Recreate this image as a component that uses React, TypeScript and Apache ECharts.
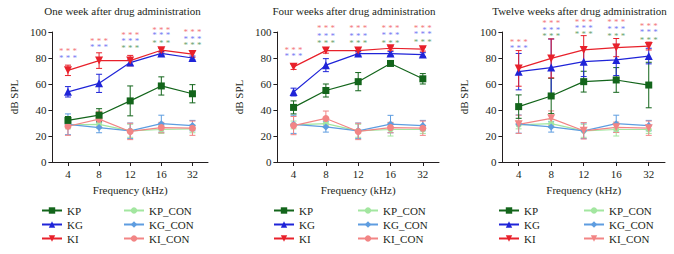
import React, { useEffect, useRef } from "react";
import * as echarts from "echarts";

const categories = ["4", "8", "12", "16", "32"];
const legendLeft = ["KP", "KG", "KI"];
const legendRight = ["KP_CON", "KG_CON", "KI_CON"];
const titles = [
  "One week after drug administration",
  "Four weeks after drug administration",
  "Twelve weeks after drug administration",
];

// Panel 1: one week
const p1KP = [32, 36, 47, 58.5, 52.5];
const p1KPErr = [3, 5, 11.5, 7, 7];
const p1KG = [54, 60.5, 76.5, 83.5, 80];
const p1KGErr = [4, 7, 2, 1.5, 1.5];
const p1KI = [70.5, 78, 78, 86, 83];
const p1KIErr = [4, 6, 4, 1.5, 2.5];
const p1KPC = [28.5, 29, 24, 25, 25.5];
const p1KPCErr = [3, 3, 5, 3, 3];
const p1KGC = [29, 26.5, 24, 29.5, 28];
const p1KGCErr = [8, 4, 6, 6.5, 4];
const p1KIC = [27.5, 33, 23.5, 26.5, 26];
const p1KICErr = [7, 6, 6.3, 4, 5.5];
const p1SigRed = [86.2, 94.6, 99.2, 103, 100.8];
const p1SigBlue = [81.5, 90, 94.6, 98.5, 96];
const p1SigGreen = [null, null, 89.2, 93, 90.8];

// Panel 2: four weeks
const p2KP = [42, 55, 61.8, 75.8, 64];
const p2KPErr = [5, 5, 7, 1, 4];
const p2KG = [53.8, 74.5, 83.4, 83.4, 82.6];
const p2KGErr = [3, 5, 1.5, 1.5, 1.5];
const p2KI = [73.2, 85.7, 85.7, 87.5, 86.8];
const p2KIErr = [2, 2, 2, 1.5, 1.5];
const p2KPC = [28.5, 29.5, 24, 25, 25];
const p2KPCErr = [3, 3, 5, 5, 3];
const p2KGC = [29, 27, 24, 29.2, 28];
const p2KGCErr = [7, 4, 6, 6.7, 4];
const p2KIC = [28, 33.5, 23.5, 26.5, 26];
const p2KICErr = [7, 5.7, 6.3, 4, 5.5];
const p2SigRed = [87.4, 104, 104, 104, 104];
const p2SigBlue = [83, 98.2, 98.2, 99, 99.5];
const p2SigGreen = [null, 92.6, 92.6, 93, 93.8];

// Panel 3: twelve weeks
const p3KP = [42.6, 50.8, 61.8, 63.1, 59.2];
const p3KPErr = [9, 13.6, 8, 9.5, 17.5];
const p3KG = [69.5, 72.6, 77.2, 78.5, 81.5];
const p3KGErr = [14, 22, 11.5, 12, 6];
const p3KI = [72, 79.7, 86.2, 88, 89.2];
const p3KIErr = [13.7, 15, 11, 7, 3];
const p3KPC = [28.5, 29.5, 24, 25, 25];
const p3KPCErr = [3, 3, 5, 5, 3];
const p3KGC = [29.2, 27, 24, 29.5, 28];
const p3KGCErr = [7, 4, 6, 6.5, 4];
const p3KIC = [29, 33.6, 24, 26.7, 26];
const p3KICErr = [7, 5.7, 6.3, 4, 5.5];
const p3SigRed = [93.8, 108, 109.2, 108.5, 105.9];
const p3SigBlue = [88.7, 102.8, 104.6, 103.3, 100.8];
const p3SigGreen = [null, 97.7, 99.7, 97.7, 95.1];

const FONT = "Liberation Serif";
const TXT = "#231f20";

const C = {
  KP: "#13651b",
  KG: "#1f24d8",
  KI: "#e8212b",
  KP_CON: "#a3e6a0",
  KG_CON: "#5e9de0",
  KI_CON: "#f28585",
  sigR: "#ef4f55",
  sigB: "#4f55ef",
  sigG: "#3d8a45",
};

type PanelCfg = {
  title: string;
  kp: number[]; kpErr: number[];
  kg: number[]; kgErr: number[];
  ki: number[]; kiErr: number[];
  kpc: number[]; kpcErr: number[];
  kgc: number[]; kgcErr: number[];
  kic: number[]; kicErr: number[];
  sigR: (number | null)[]; sigB: (number | null)[]; sigG: (number | null)[];
  kicTriangle: boolean;
  left: number; width: number; gridLeft: number; gridRight: number; legend2: number;
};

const panels: PanelCfg[] = [
  {
    title: titles[0], kp: p1KP, kpErr: p1KPErr, kg: p1KG, kgErr: p1KGErr, ki: p1KI, kiErr: p1KIErr,
    kpc: p1KPC, kpcErr: p1KPCErr, kgc: p1KGC, kgcErr: p1KGCErr, kic: p1KIC, kicErr: p1KICErr,
    sigR: p1SigRed, sigB: p1SigBlue, sigG: p1SigGreen, kicTriangle: false,
    left: 0, width: 225, gridLeft: 41, gridRight: 17, legend2: 123,
  },
  {
    title: titles[1], kp: p2KP, kpErr: p2KPErr, kg: p2KG, kgErr: p2KGErr, ki: p2KI, kiErr: p2KIErr,
    kpc: p2KPC, kpcErr: p2KPCErr, kgc: p2KGC, kgcErr: p2KGCErr, kic: p2KIC, kicErr: p2KICErr,
    sigR: p2SigRed, sigB: p2SigBlue, sigG: p2SigGreen, kicTriangle: false,
    left: 225, width: 225, gridLeft: 48, gridRight: 11, legend2: 132,
  },
  {
    title: titles[2], kp: p3KP, kpErr: p3KPErr, kg: p3KG, kgErr: p3KGErr, ki: p3KI, kiErr: p3KIErr,
    kpc: p3KPC, kpcErr: p3KPCErr, kgc: p3KGC, kgcErr: p3KGCErr, kic: p3KIC, kicErr: p3KICErr,
    sigR: p3SigRed, sigB: p3SigBlue, sigG: p3SigGreen, kicTriangle: true,
    left: 450, width: 224, gridLeft: 48, gridRight: 9, legend2: 133,
  },
];

function errSeries(name: string, vals: number[], errs: number[], color: string) {
  return {
    type: "custom",
    name,
    silent: true,
    encode: { x: 0, y: [1, 2] },
    data: vals.map((v, i) => [i, v - errs[i], v + errs[i]]),
    renderItem: (params: any, api: any) => {
      const x = api.value(0);
      const hi = api.coord([x, api.value(2)]);
      const lo = api.coord([x, api.value(1)]);
      const w = 3;
      const st = { stroke: color, lineWidth: 1 };
      return {
        type: "group",
        children: [
          { type: "line", shape: { x1: hi[0], y1: hi[1], x2: lo[0], y2: lo[1] }, style: st },
          { type: "line", shape: { x1: hi[0] - w, y1: hi[1], x2: hi[0] + w, y2: hi[1] }, style: st },
          { type: "line", shape: { x1: lo[0] - w, y1: lo[1], x2: lo[0] + w, y2: lo[1] }, style: st },
        ],
      };
    },
  };
}

function lineSeries(name: string, vals: number[], color: string, symbol: string, size: number, rotate = 0) {
  return {
    type: "line",
    name,
    data: vals,
    symbol,
    symbolSize: size,
    symbolRotate: rotate,
    showSymbol: true,
    lineStyle: { color, width: 1.2 },
    itemStyle: { color },
    z: 3,
  };
}

function sigSeries(name: string, vals: (number | null)[], color: string) {
  return {
    type: "scatter",
    name,
    clip: false,
    silent: true,
    symbolSize: 1,
    itemStyle: { color: "rgba(0,0,0,0)" },
    data: vals.map((v, i) => (v == null ? null : [i, v])).filter((d) => d != null),
    label: {
      show: true,
      position: "inside",
      formatter: "* * *",
      color,
      fontSize: 9,
      lineHeight: 5,
      fontFamily: FONT,
      offset: [0, 1.5],
    },
    z: 5,
  };
}

function buildOption(p: PanelCfg) {
  const gridW = p.width - p.gridLeft - p.gridRight;
  const legendCommon = {
    orient: "vertical",
    top: 205,
    padding: 0,
    itemWidth: 20,
    itemHeight: 8,
    itemGap: 3,
    selectedMode: false,
    textStyle: { fontSize: 11, color: TXT, fontFamily: FONT },
  };
  return {
    animation: false,
    backgroundColor: "#ffffff",
    textStyle: { fontFamily: FONT },
    title: {
      text: p.title,
      left: p.gridLeft + gridW / 2 - 2,
      top: 5,
      textAlign: "center",
      padding: 0,
      textStyle: { fontSize: 11, fontWeight: "normal", color: TXT, fontFamily: FONT },
    },
    legend: [
      { ...legendCommon, left: p.gridLeft, data: legendLeft },
      { ...legendCommon, left: p.legend2, data: legendRight },
    ],
    grid: { left: p.gridLeft, right: p.gridRight, top: 32, bottom: 92, containLabel: false },
    xAxis: {
      type: "category",
      data: categories,
      boundaryGap: true,
      axisLine: { lineStyle: { color: TXT, width: 1 } },
      axisTick: { show: true, alignWithLabel: true, length: 4, lineStyle: { color: TXT } },
      axisLabel: { fontSize: 11, color: TXT, fontFamily: FONT, margin: 6 },
      name: "Frequency (kHz)",
      nameLocation: "middle",
      nameGap: 22,
      nameTextStyle: { fontSize: 11, color: TXT, fontFamily: FONT },
      splitLine: { show: false },
    },
    yAxis: {
      type: "value",
      min: 0,
      max: 100,
      interval: 20,
      axisLine: { show: true, lineStyle: { color: TXT, width: 1 } },
      axisTick: { show: true, length: 4, lineStyle: { color: TXT } },
      axisLabel: { fontSize: 11, color: TXT, fontFamily: FONT, margin: 6 },
      splitLine: { show: false },
      name: "dB SPL",
      nameLocation: "middle",
      nameGap: 21,
      nameRotate: 90,
      nameTextStyle: { fontSize: 11, color: TXT, fontFamily: FONT },
    },
    series: [
      errSeries("e_KP_CON", p.kpc, p.kpcErr, C.KP_CON),
      errSeries("e_KG_CON", p.kgc, p.kgcErr, C.KG_CON),
      errSeries("e_KI_CON", p.kic, p.kicErr, C.KI_CON),
      lineSeries("KP_CON", p.kpc, C.KP_CON, "circle", 6),
      lineSeries("KG_CON", p.kgc, C.KG_CON, "diamond", 7),
      p.kicTriangle
        ? lineSeries("KI_CON", p.kic, C.KI_CON, "triangle", 8, 180)
        : lineSeries("KI_CON", p.kic, C.KI_CON, "circle", 7),
      errSeries("e_KP", p.kp, p.kpErr, C.KP),
      errSeries("e_KG", p.kg, p.kgErr, C.KG),
      errSeries("e_KI", p.ki, p.kiErr, C.KI),
      lineSeries("KP", p.kp, C.KP, "rect", 7),
      lineSeries("KG", p.kg, C.KG, "triangle", 8),
      lineSeries("KI", p.ki, C.KI, "triangle", 8, 180),
      sigSeries("s_R", p.sigR, C.sigR),
      sigSeries("s_B", p.sigB, C.sigB),
      sigSeries("s_G", p.sigG, C.sigG),
    ],
  };
}

function Panel({ cfg }: { cfg: PanelCfg }) {
  const ref = useRef<HTMLDivElement>(null);
  useEffect(() => {
    if (!ref.current) return;
    const chart = echarts.init(ref.current, null, { renderer: "svg" });
    chart.setOption(buildOption(cfg) as any);
    return () => chart.dispose();
  }, [cfg]);
  return (
    <div
      ref={ref}
      style={{ position: "absolute", left: cfg.left, top: 0, width: cfg.width, height: 254 }}
    />
  );
}

const css = `#chart-root svg text { font-family: "Liberation Serif", "Times New Roman", serif !important; }`;

export default function App() {
  return (
    <div
      id="chart-root"
      style={{ position: "fixed", left: 0, top: 0, width: 674, height: 254, background: "#fff" }}
    >
      <style>{css}</style>
      {panels.map((p, i) => (
        <Panel key={i} cfg={p} />
      ))}
    </div>
  );
}
